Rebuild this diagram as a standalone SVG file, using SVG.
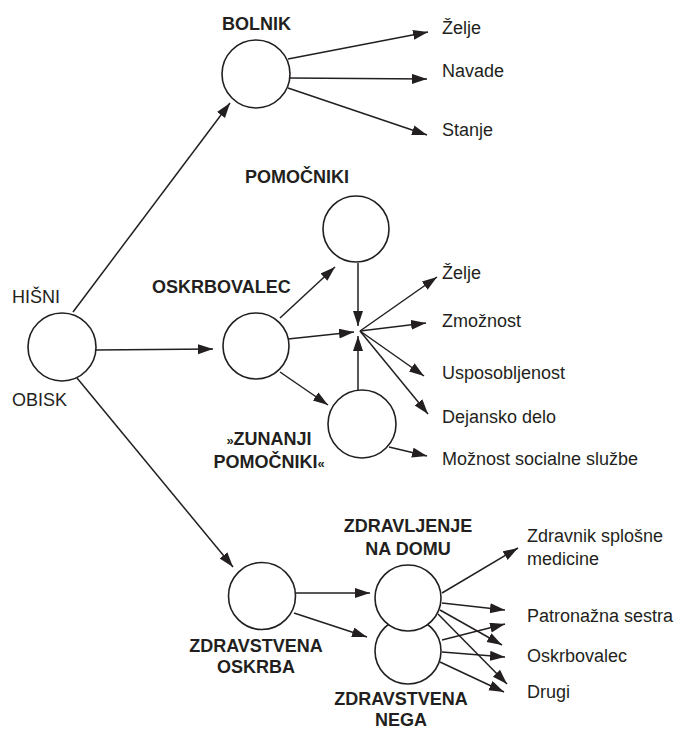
<svg xmlns="http://www.w3.org/2000/svg" width="679" height="731" viewBox="0 0 679 731">
<style>
.n{fill:#fff;stroke:#231f20;stroke-width:1.6}
.c line{stroke:#231f20;stroke-width:1.5;marker-end:url(#ah)}
text{font-family:"Liberation Sans",Arial,sans-serif;font-size:18px;fill:#231f20}
.b{font-weight:bold}
.m{text-anchor:middle}
</style>
<defs>
<marker id="ah" markerUnits="userSpaceOnUse" markerWidth="16" markerHeight="11" refX="15" refY="5" orient="auto">
<path d="M0,0 L15,5 L0,10 z" fill="#231f20"/>
</marker>
</defs>
<rect width="679" height="731" fill="#fff"/>
<g class="c" id="connectors">
<line x1="73" y1="312" x2="230" y2="103"/>
<line x1="95" y1="350" x2="213" y2="349"/>
<line x1="77" y1="378" x2="233" y2="567"/>
<line x1="288" y1="59" x2="428" y2="32"/>
<line x1="290" y1="78" x2="427" y2="79"/>
<line x1="288" y1="88" x2="427" y2="135"/>
<line x1="280" y1="318" x2="335" y2="267"/>
<line x1="288" y1="339" x2="354" y2="332"/>
<line x1="280" y1="372" x2="328" y2="405"/>
<line x1="358" y1="263" x2="358" y2="326"/>
<line x1="358" y1="390" x2="358" y2="336"/>
<line x1="360" y1="331" x2="437" y2="277"/>
<line x1="360" y1="331" x2="426" y2="323"/>
<line x1="360" y1="331" x2="424" y2="376"/>
<line x1="360" y1="331" x2="428" y2="414"/>
<line x1="389" y1="447" x2="427" y2="456"/>
<line x1="296" y1="593" x2="370" y2="593"/>
<line x1="294" y1="613" x2="367" y2="637"/>
<line x1="442" y1="593" x2="518" y2="548"/>
<line x1="442" y1="603" x2="505" y2="610"/>
<line x1="440" y1="610" x2="502" y2="645"/>
<line x1="438" y1="614" x2="507" y2="684"/>
<line x1="442" y1="640" x2="505" y2="624"/>
<line x1="442" y1="652" x2="505" y2="657"/>
<line x1="440" y1="662" x2="504" y2="692"/>
</g>
<g id="hisni-obisk">
<circle class="n" cx="62" cy="347" r="34"/>
<text x="12" y="303">HIŠNI</text>
<text x="12" y="406">OBISK</text>
</g>
<g id="bolnik">
<circle class="n" cx="256" cy="74" r="34"/>
<text class="b" x="222" y="30">BOLNIK</text>
</g>
<g id="bolnik-zelje"><text x="442" y="34">Želje</text></g>
<g id="bolnik-navade"><text x="442" y="77">Navade</text></g>
<g id="bolnik-stanje"><text x="442" y="136">Stanje</text></g>
<g id="pomocniki">
<circle class="n" cx="356" cy="229" r="33"/>
<text class="b" x="245" y="183">POMOČNIKI</text>
</g>
<g id="oskrbovalec">
<circle class="n" cx="256" cy="346" r="33"/>
<text class="b" x="152" y="293">OSKRBOVALEC</text>
</g>
<g id="zunanji-pomocniki">
<circle class="n" cx="362" cy="424" r="34"/>
<text class="b m" x="269" y="445"><tspan font-size="13">»</tspan>ZUNANJI</text>
<text class="b m" x="269" y="468">POMOČNIKI<tspan font-size="13">«</tspan></text>
</g>
<g id="r-zelje"><text x="442" y="279">Želje</text></g>
<g id="r-zmoznost"><text x="442" y="327">Zmožnost</text></g>
<g id="r-usposobljenost"><text x="442" y="379">Usposobljenost</text></g>
<g id="r-dejansko"><text x="442" y="423">Dejansko delo</text></g>
<g id="r-moznost"><text x="442" y="465">Možnost socialne službe</text></g>
<g id="zdravstvena-oskrba">
<circle class="n" cx="262" cy="596" r="33.5"/>
<text class="b m" x="256" y="652">ZDRAVSTVENA</text>
<text class="b m" x="256" y="673">OSKRBA</text>
</g>
<g id="zdravstvena-nega">
<circle class="n" cx="408" cy="651" r="33"/>
<text class="b m" x="401" y="705">ZDRAVSTVENA</text>
<text class="b m" x="401" y="726">NEGA</text>
</g>
<g id="zdravljenje-na-domu">
<circle class="n" cx="408" cy="598" r="33"/>
<text class="b m" x="408" y="532">ZDRAVLJENJE</text>
<text class="b m" x="408" y="555">NA DOMU</text>
</g>
<g id="zdravnik"><text x="527" y="542">Zdravnik splošne</text><text x="527" y="565">medicine</text></g>
<g id="patronazna"><text x="527" y="622">Patronažna sestra</text></g>
<g id="z-oskrbovalec"><text x="527" y="662">Oskrbovalec</text></g>
<g id="drugi"><text x="527" y="698">Drugi</text></g>
</svg>
